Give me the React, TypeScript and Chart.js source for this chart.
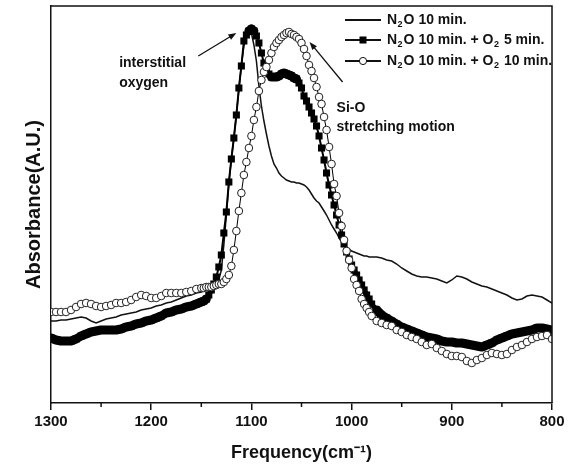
import React, { useEffect, useRef } from 'react';
import { Chart, registerables } from 'chart.js';
Chart.register(...registerables);

// Frequency grid (cm-1)
const FREQ = [
  1300, 1295, 1290, 1285, 1280, 1275, 1270, 1265, 1260, 1255, 1250, 1245, 1240, 1235, 1230, 1225,
  1220, 1215, 1210, 1205, 1200, 1195, 1190, 1185, 1180, 1175, 1170, 1165, 1160, 1155, 1150,
  1147.5, 1145, 1142.5, 1140, 1137.5, 1135, 1132.5, 1130, 1127.5, 1125, 1122.5, 1120, 1117.5, 1115,
  1112.5, 1110, 1107.5, 1105, 1102.5, 1100, 1097.5, 1095, 1092.5, 1090, 1087.5, 1085, 1082.5, 1080,
  1077.5, 1075, 1072.5, 1070, 1067.5, 1065, 1062.5, 1060, 1057.5, 1055, 1052.5, 1050, 1047.5, 1045,
  1042.5, 1040, 1037.5, 1035, 1032.5, 1030, 1027.5, 1025, 1022.5, 1020, 1017.5, 1015, 1012.5, 1010,
  1007.5, 1005, 1002.5, 1000, 997.5, 995, 992.5, 990, 987.5, 985, 982.5, 980,
  975, 970, 965, 960, 955, 950, 945, 940, 935, 930, 925, 920, 915, 910, 905, 900, 895, 890, 885, 880,
  875, 870, 865, 860, 855, 850, 845, 840, 835, 830, 825, 820, 815, 810, 805, 800,
];

// N2O 10 min. (solid line)
const N2O_10 = [
  82, 82, 83, 83, 84, 85, 86, 85, 82, 80, 82, 84, 85, 86, 88, 89, 90, 91, 93, 94, 95, 97, 98, 100, 101,
  103, 105, 107, 108, 110, 111,
  112, 113, 114, 115, 116, 119, 123, 133, 158, 188, 219, 244, 265, 288, 313, 338, 357, 367, 370, 370,
  358, 342, 317, 297, 282, 269, 257, 247, 239, 235, 230, 227, 225, 223, 222, 221, 221, 220, 220, 219,
  218, 216, 213, 209, 205, 202, 200, 196, 192, 188, 183, 178, 174, 170, 165, 161, 158, 156, 154, 152,
  151, 150, 149, 148, 147, 147, 146, 146,
  146, 145, 143, 142, 139, 135, 132, 129, 127, 126, 126, 125, 124, 122, 120, 123, 127, 126, 124, 121,
  119, 117, 116, 114, 112, 110, 108, 105, 103, 104, 107, 108, 107, 106, 103, 100,
];

// N2O 10 min. + O2 5 min. (filled squares)
const N2O_O2_5 = [
  65, 63, 62, 62, 62, 64, 67, 69, 71, 72, 73, 73, 73, 73, 74, 76, 77, 79, 80, 82, 83, 85, 87, 90, 91,
  93, 94, 96, 97, 99, 101,
  102, 104, 108, 113, 119, 126, 136, 148, 170, 191, 221, 244, 265, 288, 315, 337, 362, 368, 372, 374,
  372, 367, 360, 350, 340, 333, 329, 326, 326, 326, 327, 329, 330, 329, 328, 327, 325, 324, 320, 315,
  307, 302, 296, 290, 284, 277, 267, 255, 243, 230, 218, 208, 198, 188, 178, 168, 159, 151, 144, 138,
  133, 128, 123, 118, 113, 108, 104, 99,
  93, 88, 85, 82, 79, 76, 74, 72, 70, 68, 66, 65, 64, 62, 61, 61, 60, 60, 59, 58, 57, 56, 58, 60, 63,
  65, 67, 69, 70, 71, 72, 73, 75, 75, 74, 73,
];

// N2O 10 min. + O2 10 min. (open circles)
const N2O_O2_10 = [
  91, 91, 91, 91, 93, 96, 99, 100, 99, 97, 96, 97, 98, 100, 100, 101, 103, 106, 108, 107, 105, 105, 107,
  110, 110, 110, 110, 111, 112, 114, 115,
  115, 116, 116, 116, 117, 118, 119, 119, 121, 124, 128, 137, 153, 172, 192, 210, 228, 241, 255, 267,
  283, 296, 312, 323, 331, 336, 343, 350, 356, 360, 363, 366, 368, 370, 371, 369, 368, 366, 364, 360,
  354, 347, 338, 332, 325, 316, 306, 299, 286, 273, 256, 239, 219, 207, 190, 177, 163, 152, 143, 135,
  124, 118, 112, 104, 99, 95, 91, 87,
  82, 80, 78, 77, 73, 71, 68, 66, 64, 61, 58, 59, 55, 52, 49, 47, 47, 46, 42, 40, 43, 45, 48, 50, 49,
  48, 49, 53, 56, 58, 61, 64, 66, 67, 68, 64,
];

const X_TICKS = [1300, 1200, 1100, 1000, 900, 800];
const X_MINOR = [1250, 1150, 1050, 950, 850];
const LEGEND_LABELS = ['N₂O 10 min.', 'N₂O 10 min. + O₂ 5 min.', 'N₂O 10 min. + O₂ 10 min.'];
const X_TITLE = 'Frequency(cm⁻¹)';
const Y_TITLE = 'Absorbance(A.U.)';

const NOTE_TEXTS = ['interstitial', 'oxygen', 'Si-O', 'stretching motion'];
const NOTE_X = [1232, 1232, 1015, 1015];
const NOTE_Y = [340, 320, 295, 276];
const ARROW_FROM = [[1153, 347], [1009, 321]];
const ARROW_TO = [[1115, 370], [1042, 361]];

const FONT = "'Liberation Sans', Arial, Helvetica, sans-serif";
const INK = '#111';

function drawRich(ctx: CanvasRenderingContext2D, text: string, x: number, y: number, size: number) {
  let cx = x;
  for (const ch of text) {
    if (ch === '₂') {
      ctx.font = `bold ${Math.round(size * 0.62)}px ${FONT}`;
      ctx.fillText('2', cx + 0.5, y + size * 0.32);
      cx += ctx.measureText('2').width + 1.5;
    } else {
      ctx.font = `bold ${size}px ${FONT}`;
      ctx.fillText(ch, cx, y);
      cx += ctx.measureText(ch).width;
    }
  }
}

const decorPlugin = {
  id: 'decor',
  afterDraw(chart: any) {
    const { ctx, chartArea: a, scales } = chart;
    const xs = scales.x;
    const ys = scales.y;
    ctx.save();
    ctx.strokeStyle = INK;
    ctx.fillStyle = INK;
    ctx.lineWidth = 1.5;
    // frame top & right
    ctx.beginPath();
    ctx.moveTo(a.left, a.top);
    ctx.lineTo(a.right, a.top);
    ctx.lineTo(a.right, a.bottom);
    ctx.stroke();
    // minor ticks
    for (const v of X_MINOR) {
      const px = xs.getPixelForValue(v);
      ctx.beginPath();
      ctx.moveTo(px, a.bottom);
      ctx.lineTo(px, a.bottom + 4);
      ctx.stroke();
    }
    // arrows
    ctx.lineWidth = 1.3;
    for (let i = 0; i < ARROW_FROM.length; i++) {
      const x1 = xs.getPixelForValue(ARROW_FROM[i][0]);
      const y1 = ys.getPixelForValue(ARROW_FROM[i][1]);
      const x2 = xs.getPixelForValue(ARROW_TO[i][0]);
      const y2 = ys.getPixelForValue(ARROW_TO[i][1]);
      const ang = Math.atan2(y2 - y1, x2 - x1);
      const hl = 8, hw = 3;
      ctx.beginPath();
      ctx.moveTo(x1, y1);
      ctx.lineTo(x2 - Math.cos(ang) * hl * 0.8, y2 - Math.sin(ang) * hl * 0.8);
      ctx.stroke();
      ctx.beginPath();
      ctx.moveTo(x2, y2);
      ctx.lineTo(x2 - Math.cos(ang) * hl - Math.sin(ang) * hw, y2 - Math.sin(ang) * hl + Math.cos(ang) * hw);
      ctx.lineTo(x2 - Math.cos(ang) * hl + Math.sin(ang) * hw, y2 - Math.sin(ang) * hl - Math.cos(ang) * hw);
      ctx.closePath();
      ctx.fill();
    }
    // annotation texts
    ctx.textBaseline = 'middle';
    ctx.textAlign = 'left';
    ctx.font = `bold 14px ${FONT}`;
    for (let i = 0; i < NOTE_TEXTS.length; i++) {
      ctx.fillText(NOTE_TEXTS[i], xs.getPixelForValue(NOTE_X[i]), ys.getPixelForValue(NOTE_Y[i]));
    }
    // legend
    const lx0 = a.right - 207;
    const lx1 = a.right - 171;
    const tx = a.right - 165;
    const rows = [a.top + 14, a.top + 34, a.top + 55];
    const ds = chart.data.datasets;
    for (let i = 0; i < LEGEND_LABELS.length; i++) {
      const y = rows[i];
      ctx.strokeStyle = INK;
      ctx.lineWidth = 2;
      ctx.beginPath();
      ctx.moveTo(lx0, y);
      ctx.lineTo(lx1, y);
      ctx.stroke();
      const mx = (lx0 + lx1) / 2;
      const d = ds[i];
      if (d.pointStyle === 'rect') {
        ctx.fillStyle = '#000';
        ctx.fillRect(mx - 3.5, y - 3.5, 7, 7);
      } else if (d.pointStyle === 'circle') {
        ctx.fillStyle = '#fff';
        ctx.lineWidth = 1;
        ctx.beginPath();
        ctx.arc(mx, y, 3.6, 0, Math.PI * 2);
        ctx.fill();
        ctx.stroke();
      }
      ctx.fillStyle = INK;
      drawRich(ctx, LEGEND_LABELS[i], tx, y, 14);
    }
    ctx.restore();
  },
};

export default function App() {
  const ref = useRef<HTMLCanvasElement>(null);
  useEffect(() => {
    const canvas = ref.current;
    if (!canvas) return;
    const pts = (arr: number[]) => FREQ.map((f, i) => ({ x: f, y: arr[i] }));
    const bandWidth = (c: any) => {
      const dx = Math.abs(c.p1.x - c.p0.x) || 0.001;
      const slope = Math.abs(c.p1.y - c.p0.y) / dx;
      return slope < 1 ? 9 : slope < 2 ? 5 : 2;
    };
    const chart = new Chart(canvas, {
      type: 'line',
      data: {
        datasets: [
          {
            label: LEGEND_LABELS[0],
            data: pts(N2O_10),
            borderColor: INK,
            borderWidth: 1.5,
            pointRadius: 0,
            tension: 0,
            order: 2,
          },
          {
            label: LEGEND_LABELS[1],
            data: pts(N2O_O2_5),
            borderColor: '#000',
            borderWidth: 2,
            borderJoinStyle: 'round',
            borderCapStyle: 'round',
            segment: { borderWidth: bandWidth },
            pointStyle: 'rect',
            pointRadius: 5,
            pointBackgroundColor: '#000',
            pointBorderColor: '#000',
            pointBorderWidth: 0,
            order: 1,
          },
          {
            label: LEGEND_LABELS[2],
            data: pts(N2O_O2_10),
            borderColor: '#000',
            borderWidth: 1,
            pointStyle: 'circle',
            pointRadius: 3.8,
            pointBackgroundColor: '#fff',
            pointBorderColor: '#222',
            pointBorderWidth: 1,
            order: 0,
          },
        ] as any,
      },
      options: {
        responsive: false,
        animation: false,
        events: [],
        layout: { padding: { top: 6, right: 21, left: 0, bottom: 0 } },
        plugins: { legend: { display: false }, tooltip: { enabled: false } },
        scales: {
          x: {
            type: 'linear',
            reverse: true,
            min: 800,
            max: 1300,
            afterBuildTicks: (s: any) => {
              s.ticks = X_TICKS.map((v) => ({ value: v }));
            },
            afterFit: (s: any) => {
              s.height = 67;
            },
            ticks: {
              autoSkip: false,
              maxRotation: 0,
              padding: 3,
              color: INK,
              font: { family: FONT, size: 15, weight: 'bold' },
              callback: (v: any) => String(v),
            },
            grid: { display: true, drawOnChartArea: false, drawTicks: true, tickLength: 7, color: INK, lineWidth: 1.5 },
            border: { display: true, color: INK, width: 1.5 },
            title: {
              display: true,
              text: X_TITLE,
              color: INK,
              font: { family: FONT, size: 18, weight: 'bold' },
              padding: { top: 0, bottom: 6 },
            },
          },
          y: {
            type: 'linear',
            min: 0,
            max: 397,
            afterFit: (s: any) => {
              s.width = 51;
            },
            ticks: { display: false },
            grid: { display: false, drawTicks: false },
            border: { display: true, color: INK, width: 1.5 },
            title: {
              display: true,
              text: Y_TITLE,
              color: INK,
              font: { family: FONT, size: 20, weight: 'bold' },
              padding: { top: 22, bottom: 0 },
            },
          },
        } as any,
      },
      plugins: [decorPlugin],
    } as any);
    return () => chart.destroy();
  }, []);
  return (
    <canvas
      ref={ref}
      width={573}
      height={470}
      style={{ position: 'absolute', left: 0, top: 0, display: 'block', background: '#fff' }}
    />
  );
}
